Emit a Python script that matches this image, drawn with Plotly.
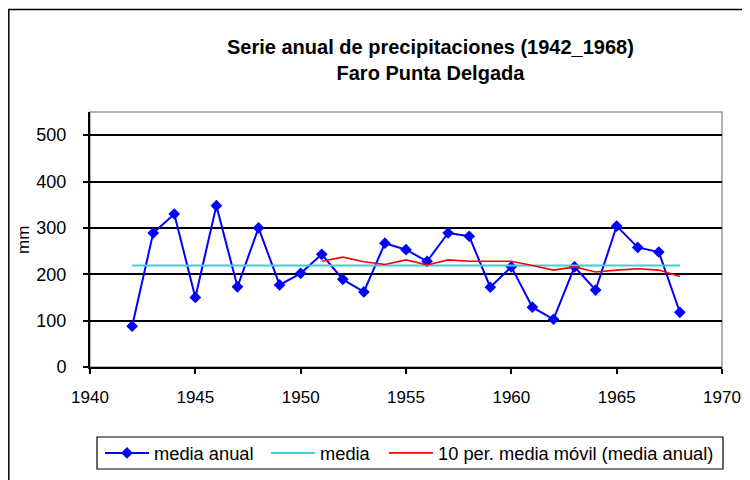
import plotly.graph_objects as go

years = list(range(1942, 1969))
media_anual = [88, 289, 330, 150, 348, 173, 300, 177, 202, 243,
               189, 162, 267, 253, 228, 289, 282, 172, 216, 129,
               103, 216, 166, 304, 258, 248, 118]
media_valor = 219
ma_years = list(range(1951, 1969))
media_movil = [228, 237, 227, 221, 231, 220, 231, 228, 228, 228,
               219, 209, 216, 205, 209, 212, 209, 195]

x_ticks = [1940, 1945, 1950, 1955, 1960, 1965, 1970]
y_ticks = [0, 100, 200, 300, 400, 500]

FONT = "Liberation Sans, Arial, sans-serif"

fig = go.Figure()
fig.add_trace(go.Scatter(
    x=years, y=media_anual, name="media anual", mode="lines+markers",
    line=dict(color="#0000FF", width=2),
    marker=dict(symbol="diamond", size=9, color="#0000FF"), legend="legend"))
fig.add_trace(go.Scatter(
    x=[years[0], years[-1]], y=[media_valor, media_valor], name="media",
    mode="lines", line=dict(color="#40D0D0", width=2), legend="legend2"))
fig.add_trace(go.Scatter(
    x=ma_years, y=media_movil, name="10 per. media móvil (media anual)",
    mode="lines", line=dict(color="#FF0000", width=1.6), legend="legend3"))

OFF = 8  # page body margin
W, H = 750 - OFF, 480 - OFF
L, T = 90 - OFF, 112 - OFF
R = W - (722 - OFF)
B = H - (367 - OFF)
pw, ph = W - L - R, H - T - B

def px(xw):
    return (xw - OFF - L) / pw

def py(yw):
    return (H - B - (yw - OFF)) / ph

def leg(xw):
    return dict(orientation="h", x=px(xw), xanchor="left", y=py(453), yanchor="middle",
                borderwidth=0, bgcolor="rgba(0,0,0,0)",
                font=dict(family=FONT, size=18.3), itemwidth=44)

fig.update_layout(
    width=W, height=H,
    margin=dict(l=L, r=R, t=T, b=B, autoexpand=False),
    paper_bgcolor="white", plot_bgcolor="white",
    font=dict(family=FONT, size=17, color="black"),
    showlegend=True,
    legend=leg(100),
    legend2=leg(266),
    legend3=leg(384),
    xaxis=dict(range=[1940, 1970], tickvals=x_ticks, ticks="outside", ticklen=5,
               tickwidth=1.5, tickcolor="black", showline=True, linecolor="black",
               linewidth=2, showgrid=False, zeroline=False, ticklabelstandoff=9,
               tickfont=dict(family=FONT, size=17)),
    yaxis=dict(range=[0, 550], tickvals=y_ticks, ticks="outside", ticklen=5,
               tickwidth=1.5, tickcolor="black", showline=True, linecolor="black",
               linewidth=2, showgrid=True, gridcolor="black", gridwidth=1.5,
               zeroline=False, ticklabelstandoff=13,
               tickfont=dict(family=FONT, size=18)),
    shapes=[
        dict(type="rect", xref="paper", yref="paper", x0=0, x1=1, y0=0, y1=1,
             line=dict(color="#999999", width=1.5), layer="below"),
        dict(type="rect", xref="paper", yref="paper",
             x0=px(8.8), x1=px(790), y0=py(520), y1=py(9.5),
             line=dict(color="black", width=1.5)),
        dict(type="rect", xref="paper", yref="paper",
             x0=px(97), x1=px(723), y0=py(469), y1=py(437),
             line=dict(color="black", width=1.2), fillcolor="rgba(0,0,0,0)"),
    ],
    annotations=[
        dict(text="<b>Serie anual de precipitaciones (1942_1968)<br>Faro Punta Delgada</b>",
             xref="paper", yref="paper", x=px(430), y=py(60),
             xanchor="center", yanchor="middle", showarrow=False,
             font=dict(family=FONT, size=20, color="black")),
        dict(text="mm", xref="paper", yref="paper", x=px(23), y=py(240),
             textangle=-90, showarrow=False, font=dict(family=FONT, size=17),
             xanchor="center", yanchor="middle"),
    ],
)

fig.write_html("out.html")
